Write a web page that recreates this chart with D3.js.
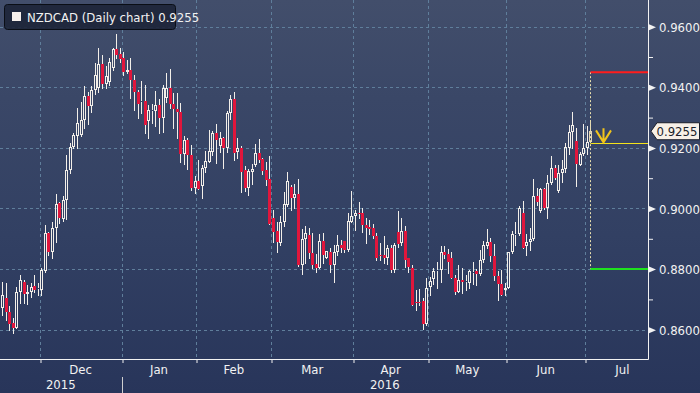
<!DOCTYPE html>
<html>
<head>
<meta charset="utf-8">
<script src="https://cdn.jsdelivr.net/npm/d3@7/dist/d3.min.js"></script>
<style>
html, body { margin: 0; padding: 0; background: #2a3758; }
svg { display: block; }
text { font-family: "Liberation Sans Narrow", "DejaVu Sans Condensed", sans-serif; }
</style>
</head>
<body>
<svg id="chart" width="700" height="393"></svg>
<script>
// NZDCAD daily candles, first session 16 Nov 2015, one per weekday
const ticker = "NZDCAD (Daily chart)";
const firstDay = "2015-11-16";

const open = [
	0.8671,0.8704,0.8658,0.8622,0.8607,0.8726,0.8759,0.8719,0.8726,0.8744,0.8735,0.8732,0.8794,0.8918,0.8858,0.8935,0.9018,0.8966,0.9029,0.9128,0.9202,0.9238,0.9243,0.9293,0.9372,0.9339,0.9392,0.9397,0.9476,0.9410,0.9419,0.9465,0.9525,0.9509,0.9496,
	0.9452,0.9456,0.9424,0.9384,0.9351,0.9355,0.9289,0.9322,0.9322,0.9342,0.9300,0.9366,0.9397,0.9344,0.9328,0.9318,0.9179,0.9227,0.9177,0.9067,0.9091,0.9073,0.9133,0.9155,0.9188,0.9249,0.9205,0.9232,0.9201,0.9315,0.9362,0.9186,0.9199,0.9128,
	0.9067,0.9122,0.9142,0.9184,0.9164,0.9128,0.9098,0.8968,0.8926,0.8885,0.8955,0.9012,0.9071,0.9034,0.9047,0.8814,0.8900,0.8913,0.8852,0.8816,0.8805,0.8893,0.8838,0.8858,0.8812,0.8858,0.8880,0.8893,0.8862,0.8957,0.8974,0.8985,0.8985,0.8946,
	0.8940,0.8935,0.8910,0.8847,0.8847,0.8836,0.8869,0.8798,0.8924,0.8886,0.8926,0.8836,0.8803,0.8693,0.8693,0.8695,0.8618,0.8742,0.8768,0.8794,0.8798,0.8855,0.8849,0.8836,0.8772,0.8726,0.8763,0.8761,0.8753,0.8792,0.8794,0.8783,0.8830,
	0.8875,0.8889,0.8844,0.8776,0.8750,0.8731,0.8737,0.8856,0.8915,0.8915,0.8985,0.8875,0.8889,0.8900,0.9040,0.8992,0.9065,0.9001,0.9084,0.9135,0.9058,0.9117,0.9131,0.9201,0.9252,0.9223,0.9144,0.9179,0.9201,0.9221
];
const high = [
	0.8759,0.8753,0.8677,0.8640,0.8742,0.8781,0.8764,0.8748,0.8753,0.8779,0.8753,0.8803,0.8946,0.8924,0.8957,0.9048,0.9023,0.9040,0.9177,0.9216,0.9248,0.9331,0.9353,0.9403,0.9386,0.9403,0.9480,0.9529,0.9505,0.9469,0.9496,0.9529,0.9575,0.9531,0.9518,
	0.9490,0.9496,0.9441,0.9392,0.9421,0.9406,0.9342,0.9346,0.9388,0.9362,0.9408,0.9446,0.9461,0.9381,0.9381,0.9348,0.9238,0.9232,0.9210,0.9106,0.9161,0.9144,0.9190,0.9260,0.9256,0.9278,0.9252,0.9236,0.9322,0.9373,0.9384,0.9234,0.9205,0.9139,
	0.9131,0.9146,0.9213,0.9230,0.9168,0.9152,0.9174,0.8996,0.8957,0.8974,0.9056,0.9120,0.9078,0.9080,0.9098,0.8933,0.8942,0.8937,0.8918,0.8849,0.8915,0.8918,0.8860,0.8869,0.8880,0.8913,0.8896,0.8893,0.8985,0.9058,0.8996,0.9021,0.9001,0.8970,
	0.8963,0.8948,0.8918,0.8885,0.8908,0.8880,0.8878,0.8886,0.8992,0.8970,0.8943,0.8836,0.8814,0.8732,0.8735,0.8704,0.8770,0.8775,0.8805,0.8825,0.8877,0.8875,0.8867,0.8856,0.8781,0.8814,0.8805,0.8781,0.8798,0.8823,0.8801,0.8864,0.8893,
	0.8933,0.8904,0.8882,0.8794,0.8798,0.8753,0.8858,0.8926,0.8957,0.9007,0.9025,0.8915,0.8935,0.9098,0.9069,0.9069,0.9069,0.9111,0.9172,0.9144,0.9144,0.9161,0.9216,0.9276,0.9318,0.9265,0.9188,0.9278,0.9271,0.9293
];
const low = [
	0.8649,0.8632,0.8600,0.8589,0.8605,0.8688,0.8688,0.8684,0.8709,0.8726,0.8713,0.8715,0.8790,0.8847,0.8836,0.8891,0.8952,0.8959,0.8966,0.9117,0.9199,0.9199,0.9238,0.9265,0.9280,0.9318,0.9377,0.9386,0.9397,0.9397,0.9408,0.9458,0.9496,0.9483,0.9441,
	0.9446,0.9366,0.9326,0.9300,0.9315,0.9249,0.9234,0.9282,0.9271,0.9249,0.9252,0.9350,0.9331,0.9267,0.9234,0.9155,0.9146,0.9131,0.9062,0.9051,0.9064,0.9034,0.9120,0.9153,0.9177,0.9150,0.9185,0.9135,0.9186,0.9296,0.9161,0.9168,0.9056,0.9059,
	0.9045,0.9081,0.9140,0.9155,0.9113,0.9078,0.8949,0.8891,0.8856,0.8880,0.8942,0.9007,0.8994,0.9003,0.8809,0.8783,0.8820,0.8836,0.8803,0.8792,0.8803,0.8820,0.8836,0.8792,0.8757,0.8847,0.8856,0.8858,0.8860,0.8955,0.8930,0.8968,0.8924,0.8886,
	0.8915,0.8902,0.8829,0.8830,0.8820,0.8816,0.8792,0.8790,0.8874,0.8878,0.8808,0.8792,0.8680,0.8666,0.8682,0.8603,0.8616,0.8715,0.8750,0.8739,0.8757,0.8836,0.8787,0.8770,0.8717,0.8724,0.8720,0.8731,0.8739,0.8750,0.8748,0.8781,0.8825,
	0.8869,0.8827,0.8765,0.8699,0.8713,0.8713,0.8737,0.8853,0.8880,0.8913,0.8871,0.8847,0.8863,0.8897,0.9010,0.8988,0.8999,0.8968,0.9080,0.9098,0.9054,0.9089,0.9122,0.9179,0.9199,0.9073,0.9142,0.9177,0.9179,0.9221
];
const close = [
	0.8715,0.8658,0.8619,0.8607,0.8726,0.8764,0.8717,0.8726,0.8742,0.8732,0.8737,0.8798,0.8918,0.8856,0.8935,0.9014,0.8968,0.9029,0.9128,0.9202,0.9243,0.9282,0.9293,0.9372,0.9339,0.9392,0.9441,0.9476,0.9410,0.9436,0.9483,0.9525,0.9507,0.9494,0.9450,
	0.9456,0.9424,0.9384,0.9344,0.9355,0.9274,0.9326,0.9326,0.9342,0.9300,0.9397,0.9397,0.9344,0.9328,0.9318,0.9179,0.9227,0.9177,0.9067,0.9091,0.9065,0.9133,0.9157,0.9190,0.9249,0.9227,0.9232,0.9201,0.9315,0.9362,0.9183,0.9199,0.9122,0.9067,
	0.9124,0.9131,0.9184,0.9160,0.9124,0.9095,0.8949,0.8924,0.8891,0.8955,0.9014,0.9091,0.9034,0.9047,0.8814,0.8900,0.8918,0.8852,0.8814,0.8805,0.8893,0.8847,0.8860,0.8812,0.8858,0.8880,0.8869,0.8864,0.8959,0.8976,0.8985,0.8981,0.8944,0.8937,
	0.8933,0.8910,0.8836,0.8844,0.8836,0.8869,0.8798,0.8878,0.8883,0.8926,0.8830,0.8808,0.8680,0.8691,0.8688,0.8618,0.8739,0.8761,0.8794,0.8796,0.8855,0.8847,0.8823,0.8772,0.8726,0.8763,0.8759,0.8761,0.8794,0.8792,0.8783,0.8830,0.8880,
	0.8889,0.8844,0.8776,0.8750,0.8715,0.8737,0.8856,0.8915,0.8917,0.9001,0.8871,0.8889,0.8900,0.9040,0.9021,0.9065,0.9001,0.9084,0.9135,0.9100,0.9117,0.9131,0.9202,0.9252,0.9274,0.9146,0.9179,0.9201,0.9221,0.9255
];

// Levels drawn at the right
const lastPrice = 0.9255;
const upperTarget = 0.9450;
const entryLevel = 0.9215;
const lowerTarget = 0.8800;

// Axis ticks
const priceTicks = [0.86, 0.88, 0.90, 0.92, 0.94, 0.96];
const minorTicks = [0.87, 0.89, 0.91, 0.93, 0.95];
const monthNames = ["Dec", "Jan", "Feb", "Mar", "Apr", "May", "Jun", "Jul"];
const yearNames = ["2015", "2016"];

const svg = d3.select("#chart");
const plotW = 648, plotH = 359;

// Background
const defs = svg.append("defs");
const bg = defs.append("linearGradient").attr("id", "bg").attr("x1", 0).attr("x2", 0).attr("y1", 0).attr("y2", 1);
bg.append("stop").attr("offset", "0").attr("stop-color", "#424e6b");
bg.append("stop").attr("offset", "0.25").attr("stop-color", "#3a4767");
bg.append("stop").attr("offset", "0.6").attr("stop-color", "#324063");
bg.append("stop").attr("offset", "1").attr("stop-color", "#28355a");
defs.append("clipPath").attr("id", "plot").append("rect").attr("width", plotW).attr("height", plotH);
svg.append("rect").attr("width", 700).attr("height", 393).attr("fill", "url(#bg)");

// Trading days (weekdays), used as category positions
const parse = d3.timeParse("%Y-%m-%d");
const days = d3.timeDay.range(parse(firstDay), parse("2016-08-01")).filter(d => d.getDay() % 6 !== 0);
const monthStart = [];
days.forEach((d, i) => { if (i > 0 && d.getMonth() !== days[i - 1].getMonth()) monthStart.push(i - 0.5); });
const monthEnd = monthStart.slice(1).concat([days.length - 0.5]);

const x = d3.scaleLinear().domain([-0.6, 181.2]).range([0, plotW]);
const y = d3.scaleLinear().domain([0.86, 0.96]).range([329.7, 26.7]);

// Grid
const grid = svg.append("g").attr("stroke", "#5f7e9b").attr("stroke-dasharray", "3,3").attr("stroke-width", 1);
grid.selectAll(".hg").data(priceTicks).enter().append("line")
	.attr("x1", 0).attr("x2", plotW)
	.attr("y1", d => Math.round(y(d)) + 0.5).attr("y2", d => Math.round(y(d)) + 0.5);
grid.selectAll(".vg").data(monthStart).enter().append("line")
	.attr("x1", d => Math.round(x(d)) + 0.5).attr("x2", d => Math.round(x(d)) + 0.5)
	.attr("y1", 0).attr("y2", plotH);

// Candles
const candles = d3.range(open.length).map(i => ({ i: i, o: open[i], h: high[i], l: low[i], c: close[i] }));
const last = candles.length - 1;
const g = svg.append("g").attr("clip-path", "url(#plot)");
const red = "#e0163c";

const cg = g.selectAll(".candle").data(candles).enter().append("g").attr("class", "candle");
cg.each(function(d) {
	const s = d3.select(this);
	const cx = Math.round(x(d.i));
	const top = Math.round(y(Math.max(d.o, d.c)));
	const bot = Math.max(top + 1, Math.round(y(Math.min(d.o, d.c))));
	const col = d.i === last ? "#e4d7b4" : "#f3efe9";
	s.append("line").attr("x1", cx + 0.5).attr("x2", cx + 0.5)
		.attr("y1", Math.round(y(d.h))).attr("y2", top).attr("stroke", col);
	s.append("line").attr("x1", cx + 0.5).attr("x2", cx + 0.5)
		.attr("y1", bot).attr("y2", Math.round(y(d.l)) + 1).attr("stroke", col);
	if (d.c >= d.o) {
		s.append("rect").attr("x", cx - 0.5).attr("y", top + 0.5)
			.attr("width", 2).attr("height", Math.max(0, bot - top - 1))
			.attr("fill", "none").attr("stroke", col);
	} else {
		s.append("rect").attr("x", cx - 1).attr("y", top)
			.attr("width", 3).attr("height", bot - top).attr("fill", red);
	}
});

// Target lines
const xl = Math.round(x(last)) + 0.5;
svg.append("line").attr("x1", xl).attr("x2", xl)
	.attr("y1", y(upperTarget)).attr("y2", y(lowerTarget))
	.attr("stroke", "#e8dfae").attr("stroke-dasharray", "2,2");
svg.append("line").attr("x1", xl).attr("x2", plotW).attr("y1", y(upperTarget)).attr("y2", y(upperTarget))
	.attr("stroke", "#ff1c1c").attr("stroke-width", 2);
svg.append("line").attr("x1", xl).attr("x2", plotW).attr("y1", y(lowerTarget)).attr("y2", y(lowerTarget))
	.attr("stroke", "#1fe11f").attr("stroke-width", 2);
svg.append("line").attr("x1", xl).attr("x2", plotW).attr("y1", Math.round(y(entryLevel)) + 0.5).attr("y2", Math.round(y(entryLevel)) + 0.5)
	.attr("stroke", "#f4e31a").attr("stroke-width", 1);
const ax = xl + 13, ay = y(entryLevel) - 1;
svg.append("path")
	.attr("d", "M" + (ax - 7.5) + "," + (ay - 12) + "L" + ax + "," + ay + "L" + (ax + 7.5) + "," + (ay - 12) + "M" + ax + "," + (ay - 14) + "L" + ax + "," + ay)
	.attr("fill", "none").attr("stroke", "#f1c41b").attr("stroke-width", 2);

// Y axis (right)
const yAxis = svg.append("g").attr("transform", "translate(" + plotW + ",0)")
	.call(d3.axisRight(y).tickValues(priceTicks).tickSize(0).tickPadding(11).tickFormat(d3.format(".4f")));
yAxis.select(".domain").remove();
yAxis.selectAll("text").attr("fill", "#f2f2f2").style("font-size", "13px").attr("dy", "0.36em");
yAxis.selectAll(".tick").append("path").attr("d", "M1,-3L8,0L1,3Z").attr("fill", "#f2f2f2");
const yMinor = svg.append("g").attr("transform", "translate(" + plotW + ",0)")
	.call(d3.axisRight(y).tickValues(minorTicks).tickSize(5).tickFormat(""));
yMinor.select(".domain").remove();
yMinor.selectAll("line").attr("stroke", "#f2f2f2");

// X axis
const xAxis = svg.append("g").attr("transform", "translate(0," + plotH + ")")
	.call(d3.axisBottom(x).tickValues(monthStart.map(d => Math.round(x(d)) + 0.5).map(p => x.invert(p))).tickSize(4).tickSizeOuter(0).tickFormat(""));
xAxis.select(".domain").remove();
xAxis.selectAll("line").attr("stroke", "#f2f2f2");

svg.append("path").attr("d", "M0," + (plotH + 0.5) + "H" + (plotW + 0.5) + "V0")
	.attr("fill", "none").attr("stroke", "#f2f2f2");

svg.selectAll(".month").data(monthNames).enter().append("text")
	.attr("x", (d, i) => x((monthStart[i] + monthEnd[i]) / 2))
	.attr("y", 374)
	.attr("text-anchor", "middle").attr("fill", "#f2f2f2").style("font-size", "13px")
	.text(d => d);

const yearSplit = x(monthStart[1]);
svg.selectAll(".year").data(yearNames).enter().append("text")
	.attr("x", (d, i) => i === 0 ? yearSplit / 2 : (yearSplit + plotW) / 2)
	.attr("y", 389)
	.attr("text-anchor", "middle").attr("fill", "#f2f2f2").style("font-size", "13px")
	.text(d => d);
svg.append("line").attr("x1", Math.round(yearSplit) + 0.5).attr("x2", Math.round(yearSplit) + 0.5)
	.attr("y1", 377).attr("y2", 393).attr("stroke", "#cfcfcf");

// Last price tag
const ly = y(lastPrice);
svg.append("path")
	.attr("d", "M651," + ly + "L657," + (ly - 8.5) + "H699.5V" + (ly + 8.5) + "H657Z")
	.attr("fill", "#f7f0e7").attr("stroke", "#1b1f2a");
svg.append("text").attr("x", 677).attr("y", ly + 4.5).attr("text-anchor", "middle")
	.attr("fill", "#1b1f2a").style("font-size", "13px").text(d3.format(".4f")(lastPrice));

// Legend box
svg.append("rect").attr("x", 4.5).attr("y", 4.5).attr("width", 171).attr("height", 25).attr("rx", 3)
	.attr("fill", "#1d2538").attr("fill-opacity", 0.9).attr("stroke", "#0a0e16");
svg.append("rect").attr("x", 12).attr("y", 12).attr("width", 9).attr("height", 9).attr("fill", "#f7f0ec");
svg.append("text").attr("x", 27).attr("y", 22).attr("fill", "#f2f2f2").style("font-size", "13px")
	.text(ticker + " " + d3.format(".4f")(lastPrice));
</script>
</body>
</html>
